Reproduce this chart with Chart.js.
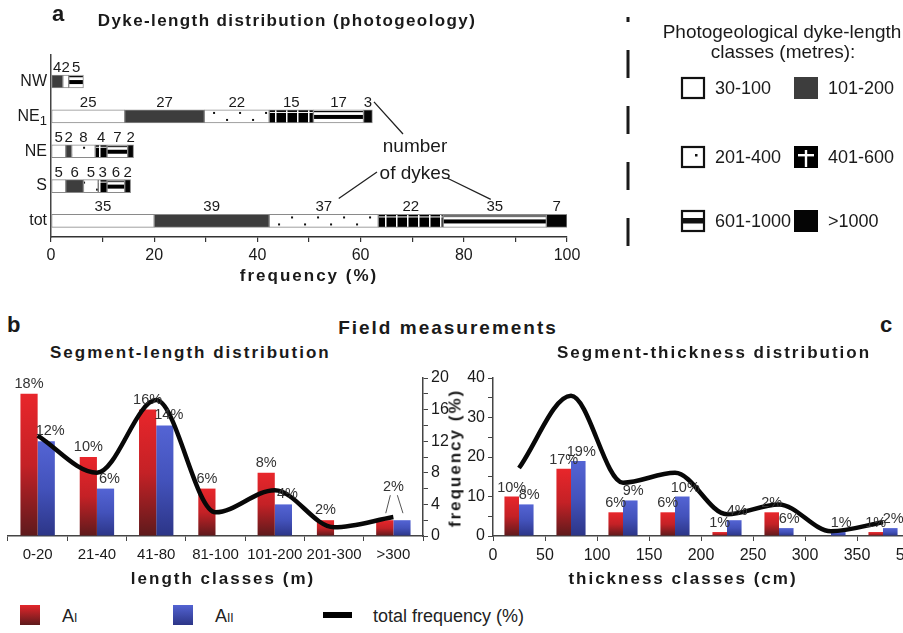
<!DOCTYPE html>
<html>
<head>
<meta charset="utf-8">
<script src="https://cdn.jsdelivr.net/npm/chart.js@4.4.1/dist/chart.umd.min.js"></script>
<style>
html, body { margin: 0; padding: 0; background: #fff; }
body { width: 903px; height: 633px; position: relative; overflow: hidden; font-family: 'Liberation Sans', Arial, sans-serif; color: #1a1a1a; }
canvas { position: absolute; }
.t { position: absolute; white-space: nowrap; line-height: 1; }
.c { transform: translate(-50%, -50%); }
.bt { font-weight: bold; font-size: 17px; letter-spacing: 2px; }
.panel { font-weight: bold; font-size: 22px; }
.leg { font-size: 18px; color: #222; }
.sw { position: absolute; width: 20px; height: 20px; }
.sub { font-size: 12px; }
</style>
</head>
<body>
<canvas id="chartA" width="903" height="290" style="left:0;top:0"></canvas>
<canvas id="chartB" width="460" height="210" style="left:0;top:365px"></canvas>
<canvas id="chartC" width="490" height="210" style="left:440px;top:365px"></canvas>

<div class="t panel" style="left:52px;top:3px">a</div>
<div class="t bt c" style="left:287px;top:20px;letter-spacing:1.4px">Dyke-length distribution (photogeology)</div>
<div class="t bt c" style="left:309px;top:275px">frequency (%)</div>

<div class="t panel" style="left:7px;top:314px">b</div>
<div class="t panel" style="left:880px;top:314px">c</div>
<div class="t bt c" style="left:448px;top:327px;font-size:19px">Field measurements</div>
<div class="t bt" style="left:50px;top:344px">Segment-length distribution</div>
<div class="t bt" style="left:557px;top:344px">Segment-thickness distribution</div>
<div class="t bt c" style="left:223px;top:578px">length classes (m)</div>
<div class="t bt c" style="left:683px;top:578px">thickness classes (cm)</div>
<div class="t bt c" style="left:455px;top:458px;transform:translate(-50%,-50%) rotate(-90deg)">frequency (%)</div>

<div class="sw" style="left:20px;top:605px;background:linear-gradient(#e3262b,#5e1a1c)"></div>
<div class="t leg" style="left:62px;top:607px">A<span class="sub">I</span></div>
<div class="sw" style="left:173px;top:605px;background:linear-gradient(#5363d2,#2c3587)"></div>
<div class="t leg" style="left:215px;top:607px">A<span class="sub">II</span></div>
<div style="position:absolute;left:323px;top:612px;width:29px;height:6px;background:#000"></div>
<div class="t leg" style="left:373px;top:607px">total frequency (%)</div>

<script>
const FONT = "'Liberation Sans', Arial, sans-serif"

// a: number of dykes per direction and length class
const rowNames = ['NW', 'NE1', 'NE', 'S', 'tot']
const dykeClasses = ['30-100', '101-200', '201-400', '401-600', '601-1000', '>1000']
const dykesNW = [0, 4, 2, 0, 5, 0]
const dykesNE1 = [25, 27, 22, 15, 17, 3]
const dykesNE = [5, 2, 8, 4, 7, 2]
const dykesS = [5, 6, 5, 3, 6, 2]
const dykesTot = [35, 39, 37, 22, 35, 7]

// b: segment length (%)
const lengthClasses = ['0-20', '21-40', '41-80', '81-100', '101-200', '201-300', '>300']
const lengthAI = [18, 10, 16, 6, 8, 2, 2]
const lengthAII = [12, 6, 14, 0, 4, 0, 2]
const lengthTotal = [12.7, 8.0, 17.2, 3.0, 5.8, 1.1, 2.4]
const lengthLabelsAI = ['18%', '10%', '16%', '6%', '8%', '2%', '']
const lengthLabelsAII = ['12%', '6%', '14%', '', '4%', '', '']
const lengthSharedIndex = 6
const lengthSharedLabel = '2%'

// c: segment thickness (%)
const thickCentres = [25, 75, 125, 175, 225, 275, 325, 375]
const thickAI = [10, 17, 6, 6, 1, 6, 0, 1]
const thickAII = [8, 19, 9, 10, 4, 2, 1, 2]
const thickTotal = [17.2, 35.5, 13.5, 16.0, 5.5, 8.0, 1.2, 3.5]
const thickLabelsAI = ['10%', '17%', '6%', '6%', '1%', '2%', '', '1%']
const thickLabelsAII = ['8%', '19%', '9%', '10%', '4%', '6%', '1%', '2%']
const thickTicks = ['0', '50', '100', '150', '200', '250', '300', '350', '500']

Chart.defaults.font.family = FONT
Chart.defaults.color = '#1a1a1a'

const BAR_A = 13
const dykeRows = [dykesNW, dykesNE1, dykesNE, dykesS, dykesTot]
const dykeTotal = dykesTot.reduce((a, b) => a + b, 0)
const classFills = ['#ffffff', '#3d3d3d', 'dots', 'blocks', 'bands', '#050505']

function makePattern(kind, top) {
    const c = document.createElement('canvas')
    const g = c.getContext('2d')
    const h = BAR_A
    if (kind === 'dots') {
        c.width = 26; c.height = h
        g.fillStyle = '#fff'; g.fillRect(0, 0, 26, h)
        g.fillStyle = '#111'; g.fillRect(5, 2, 2, 2); g.fillRect(18, h - 4, 2, 2)
    } else if (kind === 'blocks') {
        c.width = 11; c.height = h
        g.fillStyle = '#000'; g.fillRect(0, 0, 11, h)
        g.fillStyle = '#fff'; g.fillRect(0, 0, 1.5, h); g.fillRect(0, 2, 11, 1)
    } else {
        c.width = 8; c.height = h
        g.fillStyle = '#fff'; g.fillRect(0, 0, 8, h)
        g.fillStyle = '#000'; g.fillRect(0, 1, 8, 1.2); g.fillRect(0, 5, 8, 4)
    }
    const p = g.createPattern(c, 'repeat')
    p.setTransform(new DOMMatrix().translate(0, top))
    return p
}
const patCache = {}
function fillFor(kind, ctx) {
    if (kind[0] === '#') return kind
    if (!ctx.parsed) return '#fff'
    const top = ctx.chart.scales.y.getPixelForValue(ctx.parsed.y) - BAR_A / 2
    const key = kind + Math.round(top * 10)
    if (!patCache[key]) patCache[key] = makePattern(kind, top)
    return patCache[key]
}

function drawIcon(ctx, kind, x, y) {
    const w = 22, h = 20
    ctx.lineWidth = 2.2
    ctx.strokeStyle = '#111'
    if (kind === 'dots' || kind === '#ffffff' || kind === 'bands') {
        ctx.fillStyle = '#fff'; ctx.fillRect(x, y, w, h)
        ctx.strokeRect(x, y, w, h)
        if (kind === 'dots') { ctx.fillStyle = '#111'; ctx.fillRect(x + 13, y + 7, 2.5, 2.5) }
        if (kind === 'bands') { ctx.fillStyle = '#111'; ctx.fillRect(x, y + 7, w, 5.5) }
    } else {
        ctx.fillStyle = kind === 'blocks' ? '#000' : kind
        ctx.fillRect(x - 1, y - 1, w + 2, h + 2)
        if (kind === 'blocks') {
            ctx.fillStyle = '#fff'
            ctx.fillRect(x + w / 2 - 1.2, y + 3, 2.4, h - 3)
            ctx.fillRect(x + 3, y + 7, w - 6, 2.4)
        }
    }
}

const panelA = {
    id: 'panelA',
    afterDraw(chart) {
        const { ctx, chartArea } = chart
        const ys = chart.scales.y
        ctx.save()
        // row names
        ctx.fillStyle = '#1a1a1a'
        ctx.textBaseline = 'middle'
        ctx.textAlign = 'right'
        rowNames.forEach((name, i) => {
            const y = ys.getPixelForValue(i)
            const m = name.match(/^(\D+)(\d+)$/)
            ctx.font = `16px ${FONT}`
            if (m) {
                ctx.font = `13px ${FONT}`
                ctx.fillText(m[2], chartArea.left - 4, y + 5)
                const sw = ctx.measureText(m[2]).width
                ctx.font = `16px ${FONT}`
                ctx.fillText(m[1], chartArea.left - 4 - sw, y)
            } else {
                ctx.fillText(name, chartArea.left - 4, y)
            }
        })
        // counts above segments
        ctx.textAlign = 'center'
        ctx.textBaseline = 'alphabetic'
        ctx.font = `15px ${FONT}`
        const labelPos = {}
        dykeClasses.forEach((cls, k) => {
            chart.getDatasetMeta(k).data.forEach((el, i) => {
                const n = dykeRows[i][k]
                if (!n) return
                const cx = (el.x + el.base) / 2
                const ly = el.y - BAR_A / 2 - 3
                ctx.fillText(String(n), cx, ly)
                labelPos[i + '_' + k] = { x: cx, y: ly, end: el.x }
            })
        })
        // "number of dykes" note
        ctx.font = `19px ${FONT}`
        ctx.fillText('number', 415, 152)
        ctx.fillText('of dykes', 415, 179)
        ctx.strokeStyle = '#222'
        ctx.lineWidth = 1.3
        const p1 = labelPos['1_5'], p2 = labelPos['4_2'], p3 = labelPos['4_4']
        ctx.beginPath()
        ctx.moveTo(p1.x + 6, p1.y - 5); ctx.lineTo(403, 134)
        ctx.moveTo(p2.x + 15, p2.y - 13); ctx.lineTo(377, 172)
        ctx.moveTo(447, 178); ctx.lineTo(p3.x - 4, p3.y - 12)
        ctx.stroke()
        // dashed separator
        ctx.strokeStyle = '#1a1a1a'
        ctx.lineWidth = 3
        ctx.setLineDash([28, 28])
        ctx.lineDashOffset = 23
        ctx.beginPath(); ctx.moveTo(628, 17); ctx.lineTo(628, 246); ctx.stroke()
        ctx.setLineDash([])
        // class legend
        ctx.fillStyle = '#1a1a1a'
        ctx.font = `19px ${FONT}`
        ctx.textBaseline = 'middle'
        ctx.fillText('Photogeological dyke-length', 782, 33)
        ctx.fillText('classes (metres):', 783, 53)
        ctx.font = `18px ${FONT}`
        ctx.textAlign = 'left'
        const rowsY = [88, 157, 221]
        dykeClasses.forEach((cls, k) => {
            const col = k % 2, r = Math.floor(k / 2)
            const x = col ? 795 : 682
            drawIcon(ctx, classFills[k], x, rowsY[r] - 10)
            ctx.fillStyle = '#1a1a1a'
            ctx.fillText(cls, col ? 828 : 715, rowsY[r] + 1)
        })
        ctx.restore()
    }
}

new Chart(document.getElementById('chartA'), {
    type: 'bar',
    data: {
        datasets: dykeClasses.map((cls, k) => ({
            label: cls,
            data: dykeRows.map((row, i) => ({ x: row[k] ? row[k] / dykeTotal * 100 : null, y: i })),
            backgroundColor: ctx => fillFor(classFills[k], ctx),
            borderColor: '#8a8a8a',
            borderWidth: 1,
            borderSkipped: false,
            barThickness: BAR_A
        }))
    },
    options: {
        indexAxis: 'y',
        responsive: false,
        animation: false,
        layout: { padding: { left: 0, right: 336, top: 55, bottom: 0 } },
        plugins: { legend: { display: false }, tooltip: { enabled: false } },
        scales: {
            x: {
                type: 'linear', stacked: true, min: 0, max: 100,
                afterFit(s) { s.height = 53 },
                border: { color: '#333', width: 1.5 },
                grid: { drawOnChartArea: false, tickLength: 5, color: '#333', lineWidth: 1.2 },
                ticks: { stepSize: 10, autoSkip: false, maxRotation: 0, padding: 4, font: { size: 16 },
                    callback: v => (v % 20 === 0 ? String(v) : '') }
            },
            y: {
                type: 'linear', stacked: true, reverse: true, min: -0.5, max: 4.2,
                afterFit(s) { s.width = 51 },
                border: { color: '#444', width: 1.5 },
                grid: { display: false },
                ticks: { display: false }
            }
        }
    },
    plugins: [panelA]
})

function gradFill(top, mid, bottom) {
    return ctx => {
        const chart = ctx.chart
        if (!ctx.parsed || !chart.chartArea) return top
        const ys = chart.scales.y
        const y0 = ys.getPixelForValue(0)
        const y1 = ys.getPixelForValue(ctx.parsed.y)
        if (!isFinite(y1) || Math.abs(y0 - y1) < 1) return bottom
        const g = chart.ctx.createLinearGradient(0, y1, 0, y0)
        g.addColorStop(0, top)
        g.addColorStop(0.5, mid)
        g.addColorStop(1, bottom)
        return g
    }
}
const redFill = gradFill('#e8262b', '#c42126', '#5e1a1c')
const blueFill = gradFill('#5464d4', '#4352bb', '#2c3587')

const barLabels = {
    id: 'barLabels',
    afterDatasetsDraw(chart, args, opts) {
        const ctx = chart.ctx
        ctx.save()
        ctx.font = `14.5px ${FONT}`
        ctx.fillStyle = '#333'
        ctx.textAlign = 'center'
        chart.data.datasets.forEach((ds, di) => {
            if (!ds.pctLabels) return
            chart.getDatasetMeta(di).data.forEach((el, i) => {
                const t = ds.pctLabels[i]
                if (t) ctx.fillText(t, el.x + (ds.labelDx || 0), el.y - opts.gap)
            })
        })
        if (opts.shared) {
            const a = chart.getDatasetMeta(1).data[opts.shared.index]
            const b = chart.getDatasetMeta(2).data[opts.shared.index]
            const mx = (a.x + b.x) / 2
            const top = Math.min(a.y, b.y)
            ctx.fillText(opts.shared.text, mx, top - 29)
            ctx.strokeStyle = '#555'
            ctx.lineWidth = 1
            ctx.beginPath()
            ctx.moveTo(mx - 3, top - 25); ctx.lineTo(a.x + 1, top - 7)
            ctx.moveTo(mx + 4, top - 25); ctx.lineTo(b.x + 1, top - 7)
            ctx.stroke()
        }
        ctx.restore()
    }
}

new Chart(document.getElementById('chartB'), {
    type: 'bar',
    data: {
        labels: lengthClasses,
        datasets: [
            { type: 'line', label: 'total frequency (%)', data: lengthTotal, borderColor: '#080808', borderWidth: 4.5,
              pointRadius: 0, cubicInterpolationMode: 'monotone', order: 0 },
            { label: 'AI', data: lengthAI, backgroundColor: redFill, pctLabels: lengthLabelsAI,
              categoryPercentage: 0.58, barPercentage: 1, order: 1 },
            { label: 'AII', data: lengthAII, backgroundColor: blueFill, pctLabels: lengthLabelsAII, labelDx: 4,
              categoryPercentage: 0.58, barPercentage: 1, order: 1 }
        ]
    },
    options: {
        responsive: false,
        animation: false,
        layout: { padding: { left: 8, right: 0, top: 13, bottom: 0 } },
        plugins: {
            legend: { display: false }, tooltip: { enabled: false },
            barLabels: { gap: 6, shared: { index: lengthSharedIndex, text: lengthSharedLabel } }
        },
        scales: {
            x: {
                afterFit(s) { s.height = 39 },
                border: { color: '#444', width: 1.5 },
                grid: { drawOnChartArea: false, tickLength: 5, color: '#444' },
                ticks: { padding: 5, font: { size: 15 }, maxRotation: 0, autoSkip: false }
            },
            y: {
                position: 'right', min: 0, max: 20,
                afterFit(s) { s.width = 37 },
                border: { color: '#444', width: 1.5 },
                grid: { drawOnChartArea: false, tickLength: 5, color: '#444' },
                ticks: { stepSize: 2, autoSkip: false, padding: 3, font: { size: 16 },
                    callback: v => (v % 4 === 0 ? String(v) : '') }
            }
        }
    },
    plugins: [barLabels]
})

new Chart(document.getElementById('chartC'), {
    type: 'bar',
    data: {
        datasets: [
            { type: 'line', label: 'total frequency (%)', data: thickCentres.map((x, i) => ({ x, y: thickTotal[i] })),
              borderColor: '#080808', borderWidth: 4.5, pointRadius: 0, cubicInterpolationMode: 'monotone', order: 0 },
            { label: 'AI', data: thickCentres.map((x, i) => ({ x, y: thickAI[i] })), backgroundColor: redFill,
              pctLabels: thickLabelsAI, categoryPercentage: 0.56, barPercentage: 1, order: 1 },
            { label: 'AII', data: thickCentres.map((x, i) => ({ x, y: thickAII[i] })), backgroundColor: blueFill,
              pctLabels: thickLabelsAII, labelDx: 3, categoryPercentage: 0.56, barPercentage: 1, order: 1 }
        ]
    },
    options: {
        responsive: false,
        animation: false,
        layout: { padding: { left: 0, right: 21, top: 13, bottom: 0 } },
        plugins: {
            legend: { display: false }, tooltip: { enabled: false },
            barLabels: { gap: 5 }
        },
        scales: {
            x: {
                type: 'linear', min: 0, max: 400, offset: false,
                afterFit(s) { s.height = 39 },
                border: { color: '#444', width: 1.5 },
                grid: { drawOnChartArea: false, offset: false, tickLength: 5, color: '#444' },
                ticks: { stepSize: 50, autoSkip: false, maxRotation: 0, padding: 5, font: { size: 16 },
                    callback: (v, i) => thickTicks[i] }
            },
            y: {
                position: 'left', min: 0, max: 40,
                afterFit(s) { s.width = 53 },
                border: { color: '#444', width: 1.5 },
                grid: { drawOnChartArea: false, tickLength: 5, color: '#444' },
                ticks: { stepSize: 5, autoSkip: false, padding: 3, font: { size: 16 },
                    callback: v => (v % 10 === 0 ? String(v) : '') }
            }
        }
    },
    plugins: [barLabels]
})
</script>
</body>
</html>
